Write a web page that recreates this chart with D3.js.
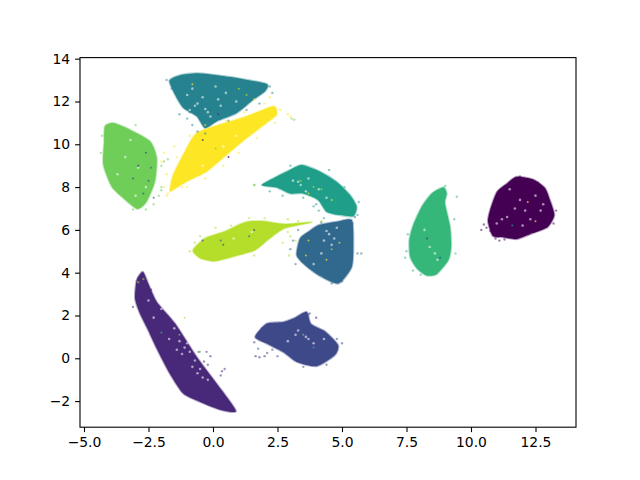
<!DOCTYPE html>
<html>
<head>
<meta charset="utf-8">
<script src="https://cdn.jsdelivr.net/npm/d3@7"></script>
<style>
body { margin: 0; background: #fff; }
text { font-family: "DejaVu Sans", sans-serif; }
</style>
</head>
<body>
<div id="chart"></div>
<script>
var xTicks = [-5, -2.5, 0, 2.5, 5, 7.5, 10, 12.5];
var yTicks = [-2, 0, 2, 4, 6, 8, 10, 12, 14];
var colors = ["#440154", "#482878", "#3e4989", "#31688e", "#26828e", "#1f9e89", "#35b779", "#6ece58", "#b5de2b", "#fde725"];

// dense body of each cluster
var body0 = [[11.77,8.48],[12.40,8.36],[12.87,7.95],[13.06,7.39],[13.23,6.69],[12.98,6.14],[12.40,5.85],[11.77,5.57],[11.24,5.66],[10.85,5.71],[10.66,6.38],[10.74,6.92],[11.01,7.78],[11.40,8.17]];
var body1 = [[-2.72,4.04],[-2.51,3.49],[-2.18,2.63],[-1.47,1.62],[-0.63,0.06],[0.14,-1.18],[0.89,-2.46],[0.27,-2.40],[-0.50,-2.04],[-1.15,-1.65],[-1.67,-0.72],[-2.21,0.53],[-2.51,1.31],[-2.83,2.09],[-3.02,2.79],[-2.96,3.65]];
var body2 = [[1.63,1.00],[2.08,1.62],[2.72,1.70],[3.18,1.90],[3.63,2.17],[3.80,1.60],[4.35,1.25],[4.85,0.61],[4.72,0.14],[4.02,-0.37],[3.24,-0.17],[2.72,0.29],[2.08,0.69]];
var body3 = [[4.08,6.22],[4.79,6.38],[5.38,6.46],[5.44,5.37],[5.38,4.27],[4.86,3.49],[4.15,3.84],[3.57,4.35],[3.24,4.82],[3.37,5.60],[3.69,5.91]];
var body4 = [[-1.69,12.97],[-1.28,13.23],[-0.63,13.32],[0.01,13.25],[0.92,13.10],[2.08,12.82],[2.02,12.48],[1.56,12.08],[0.92,11.46],[0.14,11.07],[-0.31,10.76],[-0.63,11.31],[-1.15,11.70],[-1.47,12.31]];
var body5 = [[1.89,8.09],[2.34,8.41],[2.98,8.80],[3.44,9.03],[4.15,8.72],[4.79,8.25],[5.31,7.63],[5.57,7.08],[5.44,6.64],[4.92,6.69],[4.41,6.84],[4.08,7.39],[3.50,7.70],[2.98,7.70],[2.47,7.98]];
var body6 = [[8.93,7.99],[9.06,7.70],[8.99,7.24],[9.19,6.14],[9.23,5.21],[9.12,4.58],[8.67,3.93],[8.28,3.87],[7.90,4.20],[7.64,4.74],[7.61,5.52],[7.76,6.22],[8.09,7.08],[8.48,7.70]];
var body7 = [[-4.19,10.84],[-3.86,10.99],[-3.22,10.68],[-2.44,10.14],[-2.18,9.36],[-2.25,8.27],[-2.57,7.33],[-2.93,6.98],[-3.48,7.49],[-3.93,8.03],[-4.25,9.04],[-4.22,10.14]];
var body8 = [[-0.78,5.05],[-0.31,5.61],[0.47,5.94],[1.24,6.36],[1.90,6.41],[2.79,6.27],[3.84,6.36],[2.79,6.08],[2.21,5.61],[1.63,5.05],[0.85,4.77],[0.08,4.54],[-0.50,4.68]];
var body9 = [[-1.67,7.87],[-1.54,8.58],[-1.02,9.82],[-0.63,10.53],[0.27,10.92],[1.31,11.31],[2.34,11.78],[2.47,11.39],[2.08,11.00],[1.31,10.29],[0.53,9.51],[-0.24,8.73],[-1.02,8.26],[-1.60,7.83]];
var bodies = [body0, body1, body2, body3, body4, body5, body6, body7, body8, body9];

// loose points around each cluster
var stray0 = [[10.5,6.25],[10.6,6.1],[10.75,5.95],[10.95,5.6],[11.1,5.5],[11.3,5.55],[10.4,6.0],[11.9,8.5],[12.6,8.2],[13.3,6.9],[13.2,6.3],[4.0,1.9]];
var stray1 = [[-0.55,0.3],[-0.25,0.3],[-0.1,0.1],[-0.35,-0.15],[-0.2,-0.3],[0.35,-0.6],[0.45,-0.5],[0.3,-0.8],[-3.1,2.4],[-2.4,3.2],[1.65,0.1],[1.8,0.05],[2.0,0.1]];
var stray2 = [[1.6,0.75],[1.75,0.45],[2.1,0.25],[2.3,0.4],[2.5,0.1],[3.75,2.1],[3.7,2.05],[4.8,0.9],[5.0,0.7],[1.9,1.4],[4.4,-0.3],[3.5,-0.4]];
var stray3 = [[5.6,4.9],[5.75,4.9],[5.0,3.6],[4.6,3.5],[3.2,4.4],[3.0,5.1],[3.1,5.5],[3.3,6.0],[5.5,6.6],[5.4,6.3],[4.2,6.35]];
var stray4 = [[-1.8,13.0],[-1.6,12.6],[-1.0,11.2],[-0.8,10.9],[-0.6,10.6],[-0.3,10.5],[0.6,11.1],[1.3,11.6],[1.8,11.9],[2.3,12.4],[2.2,12.7],[-1.3,11.4],[-0.9,11.5]];
var stray5 = [[1.6,8.1],[2.2,7.8],[2.7,7.6],[3.5,7.5],[3.9,7.1],[4.1,6.9],[4.3,6.55],[4.0,7.2],[5.6,6.7],[5.65,7.3],[4.5,8.8],[5.1,8.0],[3.0,9.0]];
var stray6 = [[9.45,7.55],[9.0,8.05],[7.5,5.0],[7.45,4.7],[7.55,5.8],[7.75,4.1],[9.4,4.9],[9.35,6.5],[8.05,3.9]];
var stray7 = [[-4.35,9.6],[-4.3,10.4],[-2.0,9.0],[-1.9,9.2],[-1.75,9.3],[-2.0,8.0],[-2.1,7.6],[-2.3,7.2],[-2.6,6.95],[-2.0,7.85],[-3.1,6.95],[3.05,11.2],[3.15,11.15],[-3.0,10.9]];
var stray8 = [[-0.9,5.0],[-0.7,5.4],[-0.5,5.7],[0.1,6.1],[0.7,6.2],[1.4,6.55],[2.0,6.55],[2.9,6.5],[3.3,6.4],[4.2,6.4],[2.9,5.9],[3.0,5.7],[3.2,5.5],[2.7,5.4],[1.6,4.8],[-2.9,3.55],[-2.7,3.7],[1.6,8.1],[2.95,4.8]];
var stray9 = [[-1.9,8.0],[-1.8,8.6],[-1.4,9.4],[-2.0,9.2],[-1.9,9.6],[-1.5,9.9],[-0.9,10.4],[-0.3,10.9],[0.5,11.1],[1.2,11.5],[2.0,11.9],[2.6,11.6],[2.9,11.4],[3.0,11.3],[2.4,11.0],[1.7,10.3],[1.0,9.6],[0.4,9.0],[-0.3,8.4],[-1.0,8.0],[-1.8,7.6],[2.2,12.2],[1.6,12.1],[-1.75,7.7],[-1.2,8.0]];
var strays = [stray0, stray1, stray2, stray3, stray4, stray5, stray6, stray7, stray8, stray9];

// thin spots inside the clusters, where the white shows through
var gapX = [11.4,11.7,12.0,12.5,12.7,11.2,11.9,12.3,12.8,11.0,11.5,12.1,
    -1.9,-1.5,-1.3,-1.1,-0.9,-0.7,-0.5,-0.2,-2.3,-1.7,-1.2,-1.0,-0.8,-0.6,-0.4,-1.4,-2.0,-2.5,
    3.2,3.6,3.9,2.9,4.3,3.3,3.7,
    4.3,4.5,4.6,4.7,4.2,4.4,4.8,3.9,
    -0.8,-0.4,0.1,0.5,0.9,-0.9,-0.6,-0.2,-0.1,0.3,-0.7,-0.3,0.2,-1.0,
    3.1,3.4,3.6,4.1,4.4,3.3,3.7,
    8.4,8.6,8.2,8.7,
    -3.4,-2.9,-2.6,-3.0,-3.2,-3.7,
    0.4,0.9,-0.4,
    0.8,1.5];
var gapY = [6.6,7.0,6.2,7.6,6.9,6.5,7.4,6.5,7.2,6.3,7.9,6.9,
    3.0,1.4,0.8,0.5,0.3,-0.1,-0.5,-1.0,1.9,0.9,0.2,0.7,-0.4,-0.7,-0.9,0.4,2.3,2.7,
    1.1,1.0,0.7,0.8,0.9,1.3,0.9,
    5.5,5.8,5.3,5.6,4.9,5.95,6.1,4.4,
    12.6,12.2,12.7,12.4,12.0,11.6,11.9,11.5,11.3,11.8,11.8,11.65,12.1,12.3,
    8.3,8.1,7.8,7.9,7.5,8.25,8.4,
    5.2,4.9,6.0,4.6,
    9.4,8.9,8.0,7.6,10.2,8.6,
    9.9,10.4,9.0,
    5.6,5.9];

// points of other classes sitting inside a cluster
var mixX = [-2.6,-2.5,-2.3,-2.7,-2.9,-2.4,-3.1,0.6,-0.4,0.1,1.0,1.3,-0.8,0.2,1.6,3.4,3.7,4.2,4.6,3.9,3.6,4.4,4.6,4.9,3.7,8.3,8.8,12.2,11.6,12.5,-1.1,-0.5,-2.0,-1.3,3.5,3.9,0.4,1.4,-0.4,0.3];
var mixY = [9.6,8.3,7.5,7.7,9.0,8.9,8.4,9.4,10.2,9.8,12.6,12.3,12.8,11.4,6.0,8.3,7.7,7.9,7.4,8.0,4.8,4.6,5.1,5.4,5.5,5.6,4.7,7.3,6.2,6.4,1.9,0.3,1.2,1.1,1.1,0.5,5.3,5.7,5.5,5.5];
var mixClass = [2,2,3,2,1,3,2,0,1,7,8,8,9,1,2,8,9,8,9,8,9,9,8,9,9,1,2,9,5,9,8,7,6,7,7,6,2,3,2,3];

var width = 640, height = 480;
var margin = {top: 57.6, right: 64, bottom: 52.8, left: 80};

var x = d3.scaleLinear()
    .domain([-5.155, 14.07])
    .range([margin.left, width - margin.right]);

var y = d3.scaleLinear()
    .domain([-3.22, 14.05])
    .range([height - margin.bottom, margin.top]);

var svg = d3.select("#chart").append("svg")
    .attr("width", width)
    .attr("height", height)
    .style("display", "block");

svg.append("clipPath").attr("id", "plot-area").append("rect")
    .attr("x", margin.left)
    .attr("y", margin.top)
    .attr("width", width - margin.left - margin.right)
    .attr("height", height - margin.top - margin.bottom);

var plot = svg.append("g").attr("clip-path", "url(#plot-area)");

var outline = d3.line()
    .x(function(d) { return x(d[0]); })
    .y(function(d) { return y(d[1]); })
    .curve(d3.curveCardinalClosed.tension(0.35));

plot.selectAll(".body")
    .data(bodies)
    .enter()
    .append("path")
    .attr("class", "body")
    .attr("d", outline)
    .attr("fill", function(d, i) { return colors[i]; })
    .attr("stroke", function(d, i) { return colors[i]; })
    .attr("stroke-opacity", 0.4)
    .attr("stroke-width", 2);

plot.selectAll(".gap")
    .data(gapX)
    .enter()
    .append("circle")
    .attr("class", "gap")
    .attr("r", 1.3)
    .attr("cx", function(d) { return x(d); })
    .attr("cy", function(d, i) { return y(gapY[i]); })
    .attr("fill", "#fff")
    .attr("fill-opacity", 0.55);

strays.forEach(function(points, i) {
    plot.selectAll(".stray" + i)
        .data(points)
        .enter()
        .append("circle")
        .attr("class", "stray" + i)
        .attr("r", 1.2)
        .attr("cx", function(d) { return x(d[0]); })
        .attr("cy", function(d) { return y(d[1]); })
        .attr("fill", colors[i])
        .attr("fill-opacity", 0.5);
});

plot.selectAll(".mix")
    .data(mixX)
    .enter()
    .append("circle")
    .attr("class", "mix")
    .attr("r", 1)
    .attr("cx", function(d) { return x(d); })
    .attr("cy", function(d, i) { return y(mixY[i]); })
    .attr("fill", function(d, i) { return colors[mixClass[i]]; })
    .attr("fill-opacity", 0.7);

var xAxis = d3.axisBottom(x)
    .tickValues(xTicks)
    .tickFormat(d3.format(".1f"))
    .tickSize(4.9)
    .tickPadding(4.9);

var yAxis = d3.axisLeft(y)
    .tickValues(yTicks)
    .tickFormat(d3.format("d"))
    .tickSize(4.9)
    .tickPadding(4.9);

var gx = svg.append("g")
    .attr("transform", "translate(0," + (height - margin.bottom) + ")")
    .call(xAxis);

var gy = svg.append("g")
    .attr("transform", "translate(" + margin.left + ",0)")
    .call(yAxis);

svg.selectAll(".tick text")
    .style("font-family", "'DejaVu Sans', sans-serif")
    .style("font-size", "13.9px")
    .attr("fill", "#000");

svg.selectAll(".tick line").attr("stroke", "#000").attr("stroke-width", 1.1);

// closed frame, the axes only give the left and bottom sides
gx.select(".domain").remove();
gy.select(".domain").remove();
svg.append("rect")
    .attr("x", margin.left)
    .attr("y", margin.top)
    .attr("width", width - margin.left - margin.right)
    .attr("height", height - margin.top - margin.bottom)
    .attr("fill", "none")
    .attr("stroke", "#000")
    .attr("stroke-width", 1.1);
</script>
</body>
</html>
